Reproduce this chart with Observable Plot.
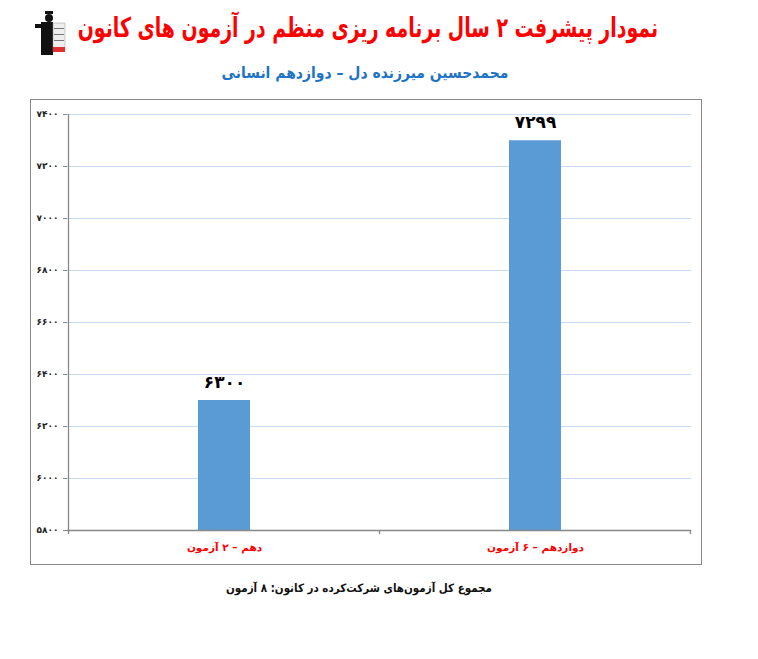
<!DOCTYPE html>
<html><head><meta charset="utf-8">
<script src="https://cdn.jsdelivr.net/npm/d3@7"></script>
<script src="https://cdn.jsdelivr.net/npm/@observablehq/plot@0.6"></script>
<style>
body{margin:0;background:#fff;font-family:"DejaVu Sans",sans-serif;}
#wrap{position:relative;width:758px;height:659px;overflow:hidden;}
.t{position:absolute;direction:rtl;white-space:nowrap;font-weight:bold;text-align:center;font-family:"DejaVu Sans Condensed","DejaVu Sans",sans-serif;}
#frame{position:absolute;left:30px;top:99px;width:672px;height:466px;border:1.5px solid #888;box-sizing:border-box;}
#plot{position:absolute;left:0;top:99px;}
</style></head><body>
<div id="wrap">
<svg style="position:absolute;left:33px;top:9px" width="34" height="46" viewBox="0 0 34 46">
  <rect x="12" y="2" width="8" height="3" fill="#111"/>
  <circle cx="16" cy="9" r="4" fill="#111"/>
  <rect x="8" y="13" width="12" height="33" fill="#111"/>
  <rect x="2" y="15" width="8" height="4" fill="#111"/>
  <rect x="20" y="14" width="12" height="28" fill="#eee" stroke="#999" stroke-width="0.5"/>
  <rect x="21" y="19" width="10" height="1" fill="#777"/>
  <rect x="21" y="25" width="10" height="1" fill="#777"/>
  <rect x="21" y="31" width="10" height="1" fill="#777"/>
  <rect x="20" y="38" width="12" height="5" fill="#e03030"/>
</svg>
<div class="t" id="title" style="left:88px;width:570px;top:16px;font-size:21px;color:#ff0000;transform:scaleY(1.3);transform-origin:50% 50%;">نمودار پیشرفت ۲ سال برنامه ریزی منظم در آزمون های کانون</div>
<div class="t" id="sub" style="left:215px;width:300px;top:64px;font-size:15.5px;color:#1f73c4;">محمدحسین میرزنده دل – دوازدهم انسانی</div>
<div id="frame"></div>
<div id="plot"></div>
<div class="t" id="foot" style="left:238px;width:254px;top:581px;font-size:11.5px;color:#111;">مجموع کل آزمون‌های شرکت‌کرده در کانون:  ۸ آزمون</div>
</div>
<script>
const categories = ["دهم – ۲ آزمون", "دوازدهم – ۶ آزمون"];
const values = [6300, 7299];
const yTicks = [5800, 6000, 6200, 6400, 6600, 6800, 7000, 7200, 7400];

const fa = n => String(n).replace(/\d/g, d => "۰۱۲۳۴۵۶۷۸۹"[d]);
const data = categories.map((c, i) => ({cat: c, value: values[i]}));
const yMin = yTicks[0], yMax = yTicks[yTicks.length - 1];

const chart = Plot.plot({
  width: 758,
  height: 466,
  marginLeft: 67,
  marginRight: 67,
  marginTop: 15,
  marginBottom: 35,
  style: {fontFamily: "DejaVu Sans", background: "transparent", overflow: "visible"},
  x: {domain: categories, paddingInner: 0.833, paddingOuter: 0.4167, align: 0.5, label: null},
  y: {domain: [yMin, yMax], label: null},
  marks: [
    Plot.ruleY(yTicks.slice(1), {stroke: "#c6daf2", strokeWidth: 1.2}),
    Plot.barY(data, {x: "cat", y1: yMin, y2: "value", fill: "#5b9bd5"}),
    Plot.text(data, {x: "cat", y: "value", text: d => fa(d.value), dy: -18, fontSize: 17, fontWeight: "bold", fill: "#000"}),
    Plot.axisY({ticks: yTicks, tickFormat: fa, tickSize: 4, tickPadding: 5, fontSize: 9, fontWeight: "bold", stroke: "#888", color: "#222", label: null}),
    Plot.axisX({tickSize: 0, tickPadding: 13, fontSize: 10.5, fontWeight: "bold", fill: "#ff0000", label: null}),
    Plot.ruleY([yMin], {stroke: "#888", strokeWidth: 1.3})
  ]
});

const xs = chart.scale("x"), ys = chart.scale("y");
const svg = d3.select(chart);
const y0 = ys.apply(yMin), y1 = ys.apply(yMax);
const step = xs.step;
const axisX0 = xs.apply(categories[0]) + xs.bandwidth / 2 - step / 2;
svg.append("line").attr("x1", axisX0).attr("x2", axisX0).attr("y1", y1).attr("y2", y0 + 4).attr("stroke", "#888").attr("stroke-width", 1.3);
categories.forEach(c => {
  const bx = xs.apply(c) + xs.bandwidth / 2 + step / 2;
  svg.append("line").attr("x1", bx).attr("x2", bx).attr("y1", y0).attr("y2", y0 + 4).attr("stroke", "#888").attr("stroke-width", 1.3);
});
document.getElementById("plot").appendChild(chart);
</script>
</body></html>
